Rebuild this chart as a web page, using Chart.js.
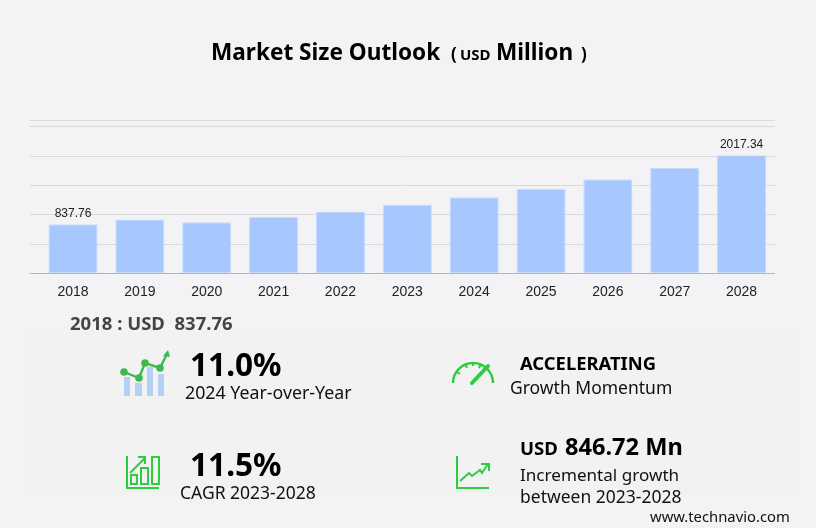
<!DOCTYPE html>
<html>
<head>
<meta charset="utf-8">
<script src="https://cdn.jsdelivr.net/npm/chart.js@4"></script>
<style>
  html, body { margin: 0; padding: 0; background: #f3f3f6; }
  #wrap { position: relative; width: 816px; height: 528px; overflow: hidden; font-family: "Noto Sans", sans-serif; color: #111; }
  #panel { position: absolute; left: 30px; top: 330px; width: 765px; height: 166px; background: #f2f2f3; }
  #myChart { position: absolute; left: 0; top: 0; }
  .t { position: absolute; white-space: nowrap; line-height: 1; transform: translateY(-50%); }
  .b { font-weight: 700; }
  svg { position: absolute; left: 0; top: 0; }
</style>
</head>
<body>
<div id="wrap">
  <div id="panel"></div>
  <canvas id="myChart" width="816" height="528"></canvas>

  <span class="t b" style="left:211px;top:52px;font-size:22.6px;color:#000">Market Size Outlook</span>
  <span class="t b" style="left:451px;top:53px;font-size:17px;color:#000">(</span>
  <span class="t b" style="left:460px;top:54px;font-size:15px;color:#000">USD</span>
  <span class="t b" style="left:496px;top:52px;font-size:22.6px;color:#000">Million</span>
  <span class="t b" style="left:581px;top:53px;font-size:17px;color:#000">)</span>

  <span class="t b" style="left:70px;top:323px;font-size:18.5px;color:#444">2018 : USD&nbsp; 837.76</span>

  <span class="t b" style="left:190px;top:364px;font-size:31.6px;color:#000">11.0%</span>
  <span class="t" style="left:185px;top:393px;font-size:17.8px">2024 Year-over-Year</span>
  <span class="t b" style="left:190px;top:464px;font-size:31.6px;color:#000">11.5%</span>
  <span class="t" style="left:180px;top:493px;font-size:17.5px">CAGR 2023-2028</span>

  <span class="t b" style="left:520px;top:363px;font-size:18.4px;color:#000">ACCELERATING</span>
  <span class="t" style="left:510px;top:388px;font-size:17.5px">Growth Momentum</span>
  <span class="t b" style="left:520px;top:448px;font-size:18.6px;color:#000">USD</span>
  <span class="t b" style="left:565px;top:447px;font-size:23.6px;color:#000">846.72 Mn</span>
  <span class="t" style="left:520px;top:475px;font-size:17.1px">Incremental growth</span>
  <span class="t" style="left:520px;top:497px;font-size:17.5px">between 2023-2028</span>
  <span class="t" style="left:650px;top:516px;font-size:14.8px">www.technavio.com</span>

  <svg width="816" height="528" fill="none">
    <!-- year over year icon -->
    <g fill="#b5d0f7">
      <rect x="124" y="377" width="6" height="19"/>
      <rect x="135" y="383" width="7" height="13"/>
      <rect x="147" y="367" width="6" height="29"/>
      <rect x="158" y="374" width="6" height="22"/>
    </g>
    <polyline points="124,372 139,378 145,363 160,368 167,354" stroke="#3dba4e" stroke-width="2.4"/>
    <g fill="#3dba4e">
      <circle cx="124" cy="372" r="3.8"/>
      <circle cx="139" cy="378" r="3.8"/>
      <circle cx="145" cy="363" r="3.8"/>
      <circle cx="160" cy="368" r="3.8"/>
      <polygon points="168,350 170,357 163,356"/>
    </g>
    <!-- cagr icon -->
    <g stroke="#2ecc40" stroke-width="2">
      <polyline points="127,456 127,488 159,488"/>
      <rect x="131" y="475" width="6" height="9"/>
      <rect x="141" y="468" width="7" height="16"/>
      <rect x="152" y="457" width="7" height="27"/>
      <polyline points="130,473 145,458"/>
      <polyline points="138,457 145,457 145,464"/>
    </g>
    <!-- gauge icon -->
    <g stroke="#2ecc40" stroke-width="2.4">
      <path d="M453 383 A20 20 0 0 1 493 383"/>
      <path d="M457 372 L460 374 M465 364 L467 368 M473 362 L473 366 M481 364 L479 368" stroke-width="2"/>
      <path d="M472 383 L488 366" stroke-width="4" stroke-linecap="round"/>
    </g>
    <!-- incremental icon -->
    <g stroke="#2ecc40" stroke-width="2">
      <polyline points="457,456 457,488 489,488"/>
      <polyline points="460,481 469,473 472,476 480,470 482,473 488,464"/>
      <polyline points="481,464 489,464 489,471"/>
    </g>
  </svg>
</div>

<script>
var categories = ["2018", "2019", "2020", "2021", "2022", "2023", "2024", "2025", "2026", "2027", "2028"];
var marketSize = [837.76, 920, 870, 960, 1057, 1170.62, 1299, 1442, 1608, 1800, 2017.34];
var gridValues = [0, 500, 1000, 1500, 2000, 2500, 2610];
var labelledYears = ["2018", "2028"];

// only first and last bars carry a value label
var barLabels = {
  id: "barLabels",
  afterDatasetsDraw: function (chart) {
    var ctx = chart.ctx;
    var bars = chart.getDatasetMeta(0).data;
    ctx.save();
    ctx.font = "12px 'Liberation Sans'";
    ctx.fillStyle = "#222";
    ctx.textAlign = "center";
    ctx.textBaseline = "alphabetic";
    bars.forEach(function (bar, i) {
      if (labelledYears.indexOf(categories[i]) >= 0) {
        ctx.fillText(marketSize[i].toFixed(2), bar.x, bar.y - 7);
      }
    });
    ctx.restore();
  },
};

new Chart(document.getElementById("myChart"), {
  type: "bar",
  data: {
    labels: categories,
    datasets: [
      {
        data: marketSize,
        backgroundColor: "#a6c8ff",
        borderColor: "#c6dbff",
        borderWidth: 1,
        barPercentage: 0.735,
        categoryPercentage: 1,
      },
    ],
  },
  options: {
    responsive: false,
    animation: false,
    layout: { padding: { left: 30, right: 41, top: 120.5, bottom: 224.7 } },
    plugins: { legend: { display: false }, tooltip: { enabled: false }, title: { display: false } },
    scales: {
      x: {
        grid: { display: false },
        border: { display: false },
        ticks: { color: "#222", font: { family: "'Liberation Sans'", size: 14 }, padding: 2, maxRotation: 0 },
        afterFit: function (scale) {
          scale.height = 30;
        },
      },
      y: {
        min: 0,
        max: 2610,
        afterBuildTicks: function (scale) {
          scale.ticks = gridValues.map(function (v) {
            return { value: v };
          });
        },
        afterFit: function (scale) {
          scale.width = 9.6;
        },
        border: { display: false },
        grid: {
          tickLength: 9.6,
          color: function (c) {
            return c.tick.value === 0 ? "#b4b4b4" : "#d9d9dc";
          },
          tickColor: function (c) {
            return c.tick.value === 0 ? "#b4b4b4" : "#d9d9dc";
          },
        },
        ticks: {
          padding: 0,
          callback: function () {
            return "";
          },
        },
      },
    },
  },
  plugins: [barLabels],
});
</script>
</body>
</html>
